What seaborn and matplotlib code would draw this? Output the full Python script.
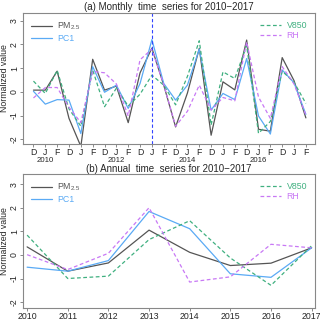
import numpy as np
import seaborn as sns
import matplotlib.pyplot as plt
from matplotlib.lines import Line2D

# monthly (winter DJF) series, Dec 2009 .. Feb 2017
months = ['D', 'J', 'F'] * 8
year_labels = ['2010', '2012', '2014', '2016']
year_pos = [1, 7, 13, 19]

pm_month = [0.07, 0.07, 0.87, -1.12, -2.3, 1.37, 0.07, 0.24, -1.3, 0.8, 1.84, 0.28,
            -1.48, -0.05, 1.83, -1.83, 0.42, 0.08, 2.18, -1.58, -1.66, 1.44, 0.47, -1.1]
pc1_month = [0.02, -0.52, -0.33, -0.35, -1.76, 1.06, -0.02, 0.28, -0.7, 0.35, 2.2, 0.35,
             -0.35, 0.28, 1.8, -0.77, -0.07, -0.33, 1.4, -1.02, -1.78, 0.92, 0.38, -0.95]
v850_month = [0.45, -0.07, 0.9, -0.72, -1.45, 0.92, -0.63, 0.15, -0.6, -0.1, 0.7, 0.28,
              -0.55, 0.65, 2.15, -1.4, 0.84, 0.56, 1.95, -1.75, -1.25, 0.87, 0.4, -0.49]
rh_month = [-0.26, 0.18, 0.18, -0.65, -1.3, 0.86, 0.8, 0.33, -1.02, 1.35, 1.8, 0.3,
            -1.45, -0.82, 0.28, -0.77, -0.24, -0.38, 2.1, -0.22, -1.12, 1.06, 0.33, -0.98]

# annual series
years = [2010, 2011, 2012, 2013, 2014, 2015, 2016, 2017]
pm_year = [0.34, -0.69, -0.34, 1.05, 0.11, -0.45, -0.35, 0.3]
pc1_year = [-0.52, -0.69, -0.24, 1.84, 1.11, -0.8, -0.95, 0.3]
v850_year = [0.84, -1.0, -0.9, 0.65, 1.45, -0.13, -1.29, 0.39]
rh_year = [0.01, -0.62, 0.07, 2.0, -1.15, -0.93, 0.45, 0.3]

sns.set_theme(style="ticks")
plt.rcParams['font.family'] = ['Liberation Sans', 'DejaVu Sans']
plt.rcParams['mathtext.default'] = 'regular'
plt.rcParams['axes.unicode_minus'] = False

c_pm = '#555555'
c_pc1 = '#5aaaf5'
c_v850 = '#40b080'
c_rh = '#c878f5'
fs = 6.3
dash = (0, (3, 2))

fig = plt.figure(figsize=(3.2, 3.21), dpi=100)
ax1 = fig.add_axes([0.072, 0.5514, 0.912, 0.4081])
ax2 = fig.add_axes([0.072, 0.0405, 0.912, 0.4175])


def draw(ax, x, pm, pc1, v850, rh):
    sns.lineplot(x=x, y=pm, ax=ax, color=c_pm, lw=0.9)
    sns.lineplot(x=x, y=pc1, ax=ax, color=c_pc1, lw=0.9)
    sns.lineplot(x=x, y=v850, ax=ax, color=c_v850, lw=0.9, linestyle=dash)
    sns.lineplot(x=x, y=rh, ax=ax, color=c_rh, lw=0.9, linestyle=dash)
    h1 = [Line2D([], [], color=c_pm, lw=0.9), Line2D([], [], color=c_pc1, lw=0.9)]
    h2 = [Line2D([], [], color=c_v850, lw=0.9, linestyle=dash),
          Line2D([], [], color=c_rh, lw=0.9, linestyle=dash)]
    leg1 = ax.legend(h1, ['PM$_{2.5}$', 'PC1'], loc='upper left', bbox_to_anchor=(0.0, 1.0),
                     frameon=False, fontsize=fs, handlelength=2.4, handletextpad=0.6,
                     labelspacing=0.15, labelcolor=[c_pm, c_pc1])
    ax.add_artist(leg1)
    ax.legend(h2, ['V850', 'RH'], loc='upper right', bbox_to_anchor=(1.0, 1.0),
              frameon=False, fontsize=fs, handlelength=2.4, handletextpad=0.6,
              labelspacing=0.15, labelcolor=[c_v850, c_rh])
    ax.set_yticks(range(-2, 4))
    ax.set_yticklabels([str(v) for v in range(-2, 4)], rotation=90, va='center')
    ax.set_ylabel('Normalized value', fontsize=fs)
    ax.yaxis.set_label_coords(-0.047, 0.5)
    ax.set_xlabel('')
    ax.tick_params(labelsize=fs, length=2, width=0.6, color='#777777', pad=1)
    for s in ax.spines.values():
        s.set_visible(True)
        s.set_color('#888888')
        s.set_linewidth(0.8)


idx = np.arange(len(months))
draw(ax1, idx, pm_month, pc1_month, v850_month, rh_month)
ax1.axvline(10, color='#3344ff', lw=0.8, linestyle=(0, (3, 2)))
ax1.set_xlim(-0.88, 23.76)
ax1.set_ylim(-2.2, 3.32)
ax1.set_xticks(idx)
ax1.set_xticklabels(months)
for p, lab in zip(year_pos, year_labels):
    ax1.text(p, -0.125, lab, transform=ax1.get_xaxis_transform(), ha='center', va='center',
             fontsize=fs - 0.7)
ax1.set_title('(a) Monthly  time  series for 2010\u22122017', fontsize=fs + 0.7, pad=2)

draw(ax2, years, pm_year, pc1_year, v850_year, rh_year)
ax2.set_xlim(2009.9, 2017.08)
ax2.set_ylim(-2.25, 3.43)
ax2.set_xticks(years)
ax2.set_xticklabels([str(y) for y in years])
ax2.set_title('(b) Annual  time  series for 2010\u22122017', fontsize=fs + 0.7, pad=1)

fig.savefig('out.png', dpi=100)
